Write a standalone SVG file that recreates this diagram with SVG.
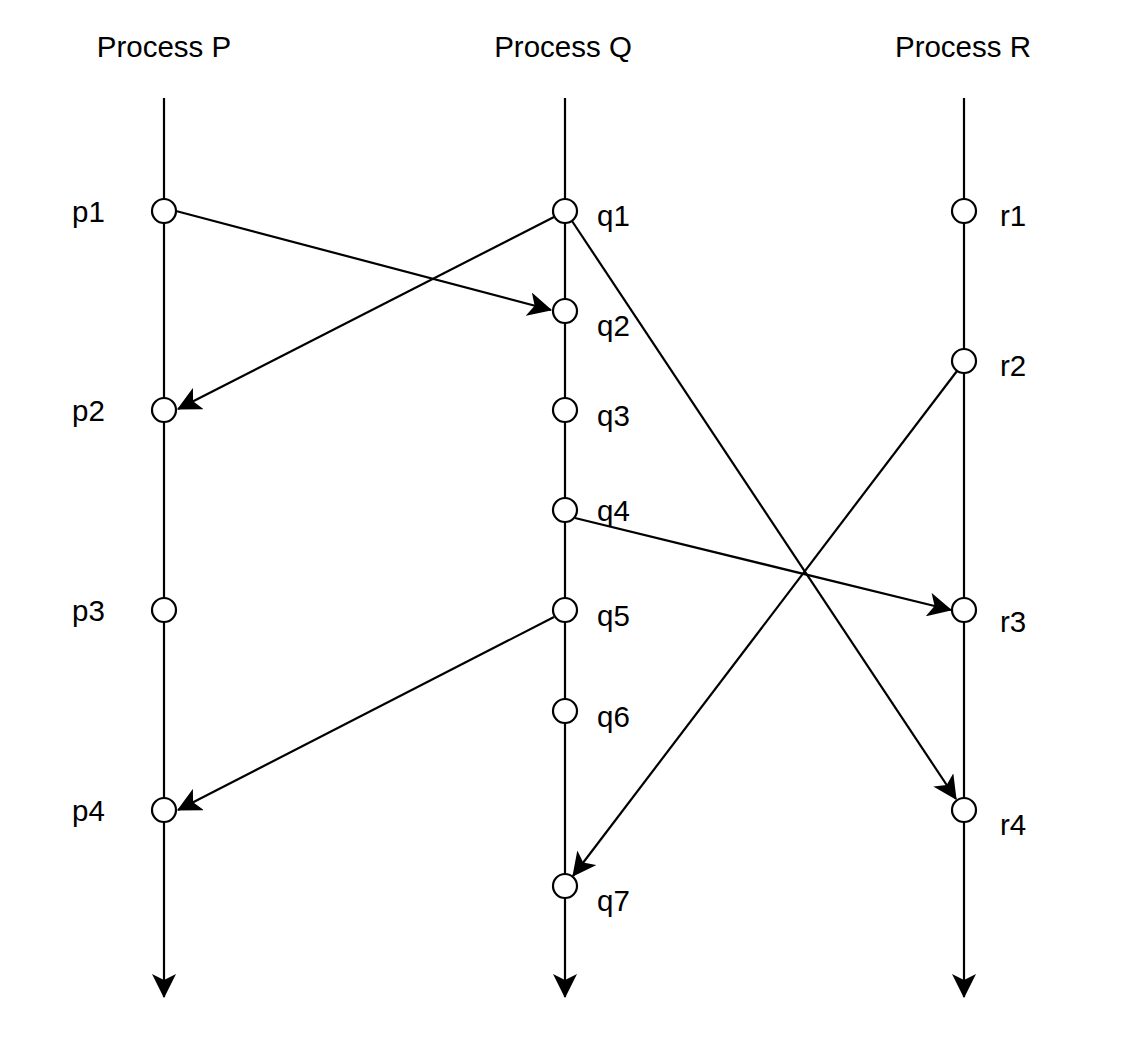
<svg xmlns="http://www.w3.org/2000/svg" width="1132" height="1052" viewBox="0 0 1132 1052">
<style>
text{font-family:"Liberation Sans",Arial,Helvetica,sans-serif;font-size:29.5px;fill:#000}
.title{text-anchor:middle}
.life,.msg{stroke:#000;stroke-width:2.2;fill:none}
.ev{fill:#fff;stroke:#000;stroke-width:2.2}
</style>
<defs>
<marker id="arr" markerUnits="userSpaceOnUse" markerWidth="24" markerHeight="24" viewBox="0 0 22 22" refX="21" refY="11" orient="auto">
<path d="M0,0 L22,11 L0,22 L5.5,11 z" fill="#000"/>
</marker>
</defs>
<rect width="1132" height="1052" fill="#fff"/>
<g id="lifelines">
<line class="life" x1="164" y1="98" x2="164" y2="997" marker-end="url(#arr)"/>
<line class="life" x1="565" y1="98" x2="565" y2="997" marker-end="url(#arr)"/>
<line class="life" x1="964" y1="98" x2="964" y2="997" marker-end="url(#arr)"/>
</g>
<g id="connectors">
<line class="msg" x1="176" y1="211" x2="551" y2="310" marker-end="url(#arr)"/>
<line class="msg" x1="554" y1="217" x2="178" y2="409" marker-end="url(#arr)"/>
<line class="msg" x1="572" y1="221" x2="956" y2="799" marker-end="url(#arr)"/>
<line class="msg" x1="957" y1="371" x2="573" y2="876" marker-end="url(#arr)"/>
<line class="msg" x1="575" y1="518" x2="951" y2="610" marker-end="url(#arr)"/>
<line class="msg" x1="554" y1="617" x2="178" y2="810" marker-end="url(#arr)"/>
</g>
<g id="titles">
<text class="title" x="164" y="57">Process P</text>
<text class="title" x="563" y="57">Process Q</text>
<text class="title" x="963" y="57">Process R</text>
</g>
<g id="p1"><circle class="ev" cx="164" cy="211" r="12"/><text x="72" y="222">p1</text></g>
<g id="p2"><circle class="ev" cx="164" cy="410" r="12"/><text x="72" y="421">p2</text></g>
<g id="p3"><circle class="ev" cx="164" cy="610" r="12"/><text x="72" y="621">p3</text></g>
<g id="p4"><circle class="ev" cx="164" cy="810" r="12"/><text x="72" y="821">p4</text></g>
<g id="q1"><circle class="ev" cx="565" cy="211" r="12"/><text x="597" y="226">q1</text></g>
<g id="q2"><circle class="ev" cx="565" cy="311" r="12"/><text x="597" y="336">q2</text></g>
<g id="q3"><circle class="ev" cx="565" cy="410" r="12"/><text x="597" y="426">q3</text></g>
<g id="q4"><circle class="ev" cx="565" cy="510" r="12"/><text x="597" y="521">q4</text></g>
<g id="q5"><circle class="ev" cx="565" cy="610" r="12"/><text x="597" y="626">q5</text></g>
<g id="q6"><circle class="ev" cx="565" cy="711" r="12"/><text x="597" y="727">q6</text></g>
<g id="q7"><circle class="ev" cx="565" cy="886" r="12"/><text x="597" y="911">q7</text></g>
<g id="r1"><circle class="ev" cx="964" cy="211" r="12"/><text x="1000" y="226">r1</text></g>
<g id="r2"><circle class="ev" cx="964" cy="361" r="12"/><text x="1000" y="376">r2</text></g>
<g id="r3"><circle class="ev" cx="964" cy="610" r="12"/><text x="1000" y="632">r3</text></g>
<g id="r4"><circle class="ev" cx="964" cy="810" r="12"/><text x="1000" y="835">r4</text></g>
</svg>
